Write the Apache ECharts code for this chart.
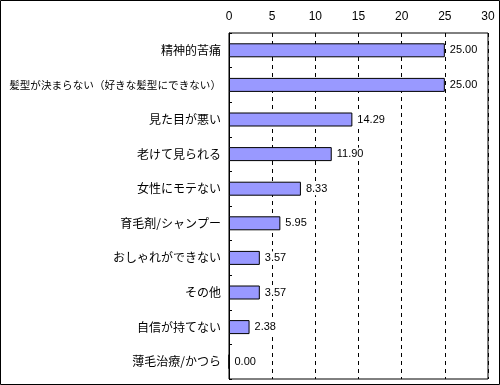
<!DOCTYPE html>
<html><head><meta charset="utf-8">
<script src="https://cdn.jsdelivr.net/npm/echarts@6/dist/echarts.min.js"></script>
<style>html,body{margin:0;padding:0;background:#fff}#c{width:500px;height:385px}</style>
</head><body><div id="c"></div>
<script>
const categories = ["精神的苦痛","髪型が決まらない（好きな髪型にできない）","見た目が悪い","老けて見られる","女性にモテない","育毛剤/シャンプー","おしゃれができない","その他","自信が持てない","薄毛治療/かつら"];
const values = [25.00,25.00,14.29,11.90,8.33,5.95,3.57,3.57,2.38,0.00];
const xTicks = {min:0,max:30,interval:5};

const chart = echarts.init(document.getElementById('c'));
chart.setOption({
  animation:false,
  backgroundColor:'#fff',
  graphic:[{type:'rect',shape:{x:0.5,y:0.5,width:499,height:384},style:{fill:'none',stroke:'#000',lineWidth:1},silent:true}],
  grid:{left:229,right:12,top:33,bottom:6,show:true,borderColor:'#000',borderWidth:1,containLabel:false},
  xAxis:{type:'value',position:'top',min:xTicks.min,max:xTicks.max,interval:xTicks.interval,
    axisLine:{show:false},axisTick:{show:false},
    axisLabel:{color:'#000',fontSize:12,margin:10,fontFamily:'Liberation Sans, Arial, sans-serif'},
    splitLine:{show:true,lineStyle:{color:'#000',type:[4,4],width:1}}},
  yAxis:{type:'category',inverse:true,data:categories,
    axisLine:{show:true,lineStyle:{color:'#000',width:1}},
    axisTick:{show:true,inside:true,length:3,lineStyle:{color:'#000'}},
    axisLabel:{color:'#000',fontSize:12,margin:8,fontFamily:'Noto Sans CJK JP',
      formatter:function(v){return v.length>12?'{s|'+v+'}':v;},
      rich:{s:{fontSize:10.6,fontFamily:'Noto Sans CJK JP',color:'#000'}}}},
  series:[{type:'bar',data:values,barWidth:14,
    itemStyle:{color:'#9999FF',borderColor:'#000',borderWidth:1},
    label:{show:true,position:'right',distance:4,color:'#000',fontSize:11,fontFamily:'Liberation Sans, Arial, sans-serif',
      backgroundColor:'#fff',padding:[1,1,1,1],
      formatter:function(p){return p.value.toFixed(2);}}}]
});
</script></body></html>
